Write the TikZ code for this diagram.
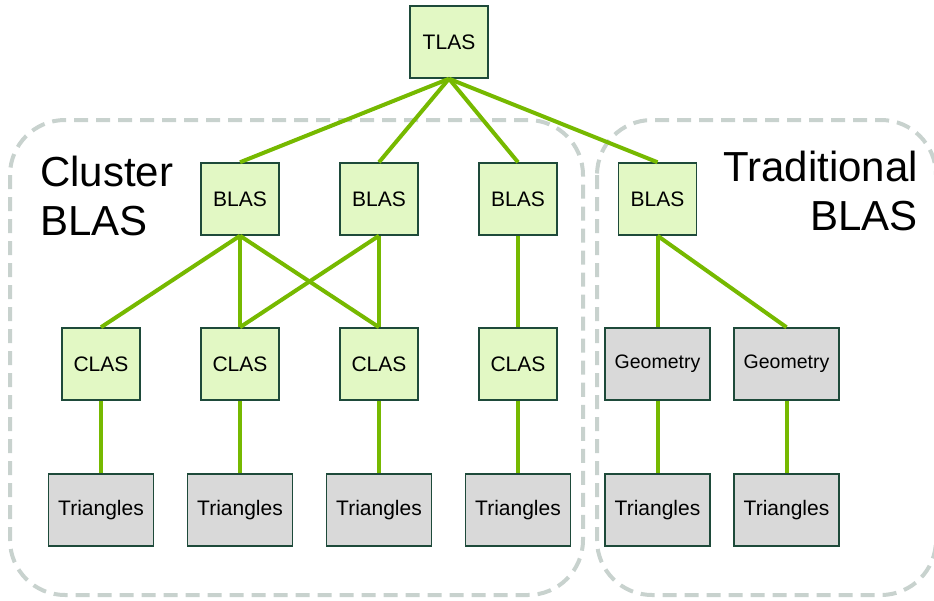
\documentclass[tikz,border=0pt]{standalone}
\usepackage{fontspec}
\setmainfont{Liberation Sans}
\usepackage{tikz}
\usetikzlibrary{positioning}

\definecolor{nvgreen}{HTML}{76B900}
\definecolor{asgreen}{HTML}{E2F8C4}
\definecolor{asedge}{HTML}{1E4A3A}
\definecolor{leafgray}{HTML}{D9D9D9}
\definecolor{groupgray}{HTML}{C8D2CE}

\begin{document}
\begin{tikzpicture}[x=1pt, y=-1pt,
    as/.style={draw=asedge, line width=1.5pt, fill=asgreen, minimum width=78pt,
        minimum height=72pt, inner sep=0pt, font=\fontsize{21}{25}\selectfont},
    leaf/.style={as, fill=leafgray, minimum width=105pt},
    geo/.style={leaf, font=\fontsize{19.5}{23}\selectfont},
    link/.style={draw=nvgreen, line width=4pt},
    group/.style={draw=groupgray, line width=4pt, dash pattern=on 14pt off 8pt,
        rounded corners=55pt},
    grouptitle/.style={font=\fontsize{42}{49}\selectfont, inner sep=0pt}]
    \useasboundingbox (0,0) rectangle (934,600);

    % groups
    \draw[group] (10,120) rectangle (583,595);
    \draw[group] (597,120) rectangle (936,595);
    \node[grouptitle, align=left, anchor=base west] (cluster) at (40,235) {Cluster\\BLAS};
    \node[grouptitle, align=right, anchor=base east] (traditional) at (918,230) {Traditional\\BLAS};

    % Define nodes
    \node[as]                         (tlas)  at (449,42) {TLAS};
    \node[as]                         (blas1) at (240,199) {BLAS};
    \node[as, right = 59.5pt of blas1] (blas2) {BLAS};
    \node[as, right = 59.5pt of blas2] (blas3) {BLAS};
    \node[as, right = 60pt of blas3]   (blas4) {BLAS};

    \node[as, below = 91.5pt of blas1] (clas2) {CLAS};
    \node[as, left = 59.5pt of clas2]  (clas1) {CLAS};
    \node[as, below = 91.5pt of blas2] (clas3) {CLAS};
    \node[as, below = 91.5pt of blas3] (clas4) {CLAS};
    \node[geo, below = 91.5pt of blas4] (geo1) {Geometry};
    \node[geo, right = 22.5pt of geo1] (geo2) {Geometry};

    \node[leaf, below = 72.5pt of clas1] (tri1) {Triangles};
    \node[leaf, below = 72.5pt of clas2] (tri2) {Triangles};
    \node[leaf, below = 72.5pt of clas3] (tri3) {Triangles};
    \node[leaf, below = 72.5pt of clas4] (tri4) {Triangles};
    \node[leaf, below = 72.5pt of geo1]  (tri5) {Triangles};
    \node[leaf, below = 72.5pt of geo2]  (tri6) {Triangles};

    % Connect nodes
    \foreach \b in {blas1,blas2,blas3,blas4}
        \draw[link] (tlas.south) -- (\b.north);
    \foreach \c in {clas1,clas2,clas3}
        \draw[link] (blas1.south) -- (\c.north);
    \foreach \c in {clas2,clas3}
        \draw[link] (blas2.south) -- (\c.north);
    \draw[link] (blas3.south) -- (clas4.north);
    \draw[link] (blas4.south) -- (geo1.north);
    \draw[link] (blas4.south) -- (geo2.north);
    \foreach \u/\t in {clas1/tri1,clas2/tri2,clas3/tri3,clas4/tri4,geo1/tri5,geo2/tri6}
        \draw[link] (\u.south) -- (\t.north);
\end{tikzpicture}
\end{document}
